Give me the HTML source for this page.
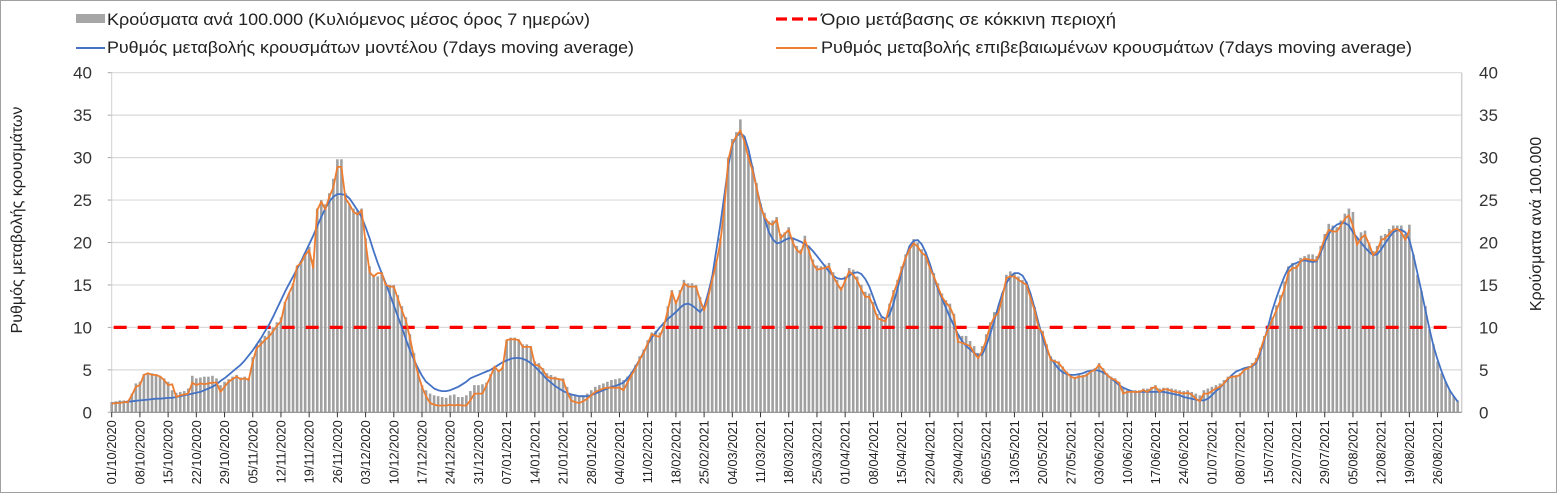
<!DOCTYPE html>
<html><head><meta charset="utf-8">
<style>
body{margin:0;background:#fff;}
#wrap{position:relative;width:1557px;height:493px;overflow:hidden;background:#fff;}
svg{position:absolute;left:0;top:0;font-family:"Liberation Sans",Arial,sans-serif;}
</style></head>
<body>
<div id="wrap">
<svg id="chart" width="1557" height="493"></svg>
</div>
<script>
const startDate = [2020, 9, 1]; // 01/10/2020 (month 0-based)
const yTicks = [0,5,10,15,20,25,30,35,40];
const threshold = 10;
const orange = [
1.0,1.1,1.1,1.2,1.2,2.0,3.0,3.2,4.4,4.6,
4.4,4.4,4.2,3.8,3.2,3.3,1.8,2.0,2.1,2.2,
3.5,3.2,3.4,3.3,3.4,3.5,3.5,2.4,3.0,3.6,
3.9,4.2,3.9,4.0,3.8,6.0,7.6,8.0,8.5,8.9,
9.5,10.2,10.7,12.9,14.0,15.0,17.2,17.6,18.5,19.1,
17.0,23.8,24.8,23.9,25.4,26.5,28.9,28.9,25.2,24.5,
23.6,23.3,23.8,20.0,16.5,16.0,16.4,16.4,15.0,14.8,
14.8,13.4,12.0,10.8,8.8,6.5,4.5,3.0,1.9,1.1,
0.9,0.8,0.8,0.8,0.9,0.8,0.9,0.8,0.8,1.4,
2.2,2.2,2.2,3.2,4.2,5.4,4.8,5.2,8.5,8.6,
8.6,8.5,7.7,7.7,7.7,5.6,5.5,5.0,4.2,4.0,
4.0,3.9,3.8,2.4,1.4,1.2,1.1,1.3,1.6,2.0,
2.4,2.6,2.8,2.9,2.9,2.9,2.9,2.6,3.5,4.4,
5.2,6.2,7.0,8.1,9.2,9.0,8.9,10.1,12.0,14.2,
12.8,14.0,15.2,14.8,14.8,14.8,13.2,12.0,13.5,15.6,
17.5,19.9,24.0,29.7,31.7,32.5,33.2,31.9,30.0,28.5,
26.5,24.2,23.0,22.3,22.1,22.7,20.5,21.0,21.5,20.0,
19.1,18.7,20.3,19.0,17.5,16.8,16.9,17.0,17.2,16.0,
15.2,14.4,15.5,16.6,16.2,15.5,14.5,13.6,13.6,12.5,
11.1,10.9,10.7,12.5,14.0,15.3,16.8,18.2,19.2,19.9,
19.5,18.8,18.4,17.0,16.0,14.8,13.6,12.9,12.4,11.3,
8.3,8.2,8.0,7.8,7.0,6.4,7.2,8.5,10.2,11.2,
11.7,13.5,15.8,16.0,16.0,15.6,15.3,15.0,13.5,12.0,
10.0,9.3,7.7,6.2,6.0,5.8,5.2,4.6,4.2,4.0,
4.2,4.2,4.4,4.8,5.0,5.6,5.0,4.4,4.0,3.8,
3.4,2.2,2.4,2.4,2.4,2.4,2.6,2.4,2.8,3.0,
2.4,2.7,2.7,2.5,2.4,2.3,2.2,2.3,2.1,1.6,
1.3,2.2,2.2,2.5,2.8,3.0,3.4,4.0,4.2,4.2,
4.4,5.0,5.2,5.5,6.0,7.3,8.7,9.8,10.9,12.0,
13.2,14.5,16.5,17.0,17.0,17.8,18.1,18.0,17.9,17.9,
19.1,20.5,21.5,21.3,21.3,22.0,22.8,23.2,22.0,19.7,
20.5,20.9,19.8,18.5,19.0,20.3,20.5,21.0,21.5,21.6,
21.2,20.3,21.5];
const blue = [
1.06,1.1,1.15,1.2,1.25,1.3,1.35,1.4,1.45,1.5,
1.55,1.6,1.6,1.65,1.7,1.7,1.8,1.9,2.0,2.1,
2.2,2.3,2.4,2.6,2.8,3.0,3.3,3.7,4.0,4.4,
4.8,5.2,5.6,6.1,6.7,7.3,8.0,8.7,9.5,10.3,
11.2,12.2,13.2,14.2,15.1,16.0,16.9,17.8,18.8,19.8,
20.8,21.9,23.0,24.0,24.8,25.4,25.7,25.7,25.6,25.2,
24.5,23.8,23.0,21.8,20.5,19.0,17.6,16.4,15.2,13.9,
12.6,11.3,10.0,8.6,7.3,6.2,5.2,4.3,3.6,3.2,
2.8,2.6,2.5,2.5,2.6,2.8,3.0,3.3,3.6,4.0,
4.2,4.4,4.6,4.8,5.0,5.3,5.6,5.9,6.1,6.3,
6.4,6.4,6.3,6.1,5.8,5.4,4.9,4.4,3.9,3.5,
3.1,2.8,2.5,2.3,2.1,2.0,1.9,1.9,1.9,2.0,
2.2,2.4,2.6,2.8,3.0,3.1,3.3,3.5,4.0,4.6,
5.4,6.2,7.1,8.0,8.8,9.4,10.0,10.5,11.0,11.4,
11.8,12.3,12.7,12.8,12.6,12.2,11.8,12.4,14.0,16.0,
19.0,22.0,25.5,29.0,31.5,32.5,32.9,32.5,31.0,28.8,
26.5,24.5,22.8,21.3,20.4,19.9,20.0,20.3,20.5,20.5,
20.3,20.1,19.8,19.5,19.0,18.4,17.8,17.2,16.6,16.1,
15.8,15.7,15.8,16.1,16.4,16.5,16.3,15.7,14.8,13.5,
12.2,11.3,11.0,11.5,12.8,14.6,16.5,18.2,19.6,20.2,
20.3,19.8,18.8,17.5,16.0,14.5,13.4,12.3,11.2,10.2,
9.2,8.4,7.8,7.4,7.0,6.7,6.8,7.8,9.2,10.8,
12.5,14.0,15.2,16.0,16.4,16.4,16.1,15.3,14.0,12.3,
10.5,8.8,7.4,6.4,5.7,5.1,4.7,4.5,4.4,4.4,
4.5,4.6,4.8,4.9,5.0,4.9,4.7,4.4,4.0,3.6,
3.2,2.9,2.7,2.5,2.4,2.4,2.4,2.4,2.4,2.4,
2.4,2.4,2.3,2.2,2.1,2.0,1.8,1.7,1.6,1.5,
1.4,1.4,1.6,2.0,2.5,2.9,3.4,3.9,4.4,4.8,
5.0,5.2,5.3,5.4,5.8,7.0,8.5,10.2,12.0,13.5,
14.8,16.0,17.0,17.4,17.6,17.8,17.9,17.8,17.7,17.8,
18.8,20.0,21.0,21.7,22.1,22.3,22.3,22.0,21.2,20.6,
20.0,19.4,18.9,18.5,18.6,19.2,19.9,20.6,21.2,21.5,
21.5,21.2,20.3,18.5,16.4,14.2,12.0,9.8,7.8,6.2,
4.8,3.6,2.6,1.9,1.25];
const bars = [
1.2,1.3,1.4,1.4,1.4,2.2,3.4,3.6,4.5,4.6,
4.6,4.5,4.3,4.0,3.6,2.6,2.3,2.4,2.5,2.8,
4.3,4.0,4.1,4.2,4.2,4.3,4.0,3.2,3.6,3.9,
4.2,4.4,4.1,4.2,4.0,6.5,8.0,8.5,9.0,9.6,
10.0,10.6,11.2,13.0,14.0,15.2,17.3,17.8,18.8,19.5,
18.0,24.0,25.0,24.5,25.8,27.5,29.8,29.8,25.8,24.5,
24.0,23.8,24.0,20.5,17.2,16.2,16.0,16.5,15.2,15.0,
15.0,13.8,12.5,11.2,9.2,7.0,5.0,3.2,2.6,2.2,
2.0,1.9,1.8,1.7,2.0,2.1,1.8,1.8,2.0,2.5,
3.2,3.2,3.3,3.5,4.5,5.2,5.0,5.4,8.5,8.8,
8.8,8.6,8.0,8.0,7.8,6.0,5.8,5.2,4.6,4.4,
4.2,4.0,4.0,3.0,2.2,2.0,1.8,2.0,2.2,2.6,
3.0,3.2,3.4,3.6,3.8,3.9,4.0,3.8,4.2,4.8,
5.6,6.6,7.4,8.5,9.4,9.6,9.4,10.6,12.5,14.4,
13.2,14.4,15.6,15.2,15.2,15.0,13.6,12.5,14.0,16.0,
18.0,20.5,24.5,30.0,32.2,33.0,34.5,32.5,30.5,29.0,
27.0,24.6,23.5,22.5,22.6,23.0,21.0,21.2,21.8,20.6,
19.6,19.2,20.8,19.6,18.0,17.3,17.2,17.4,17.6,16.5,
15.6,14.8,16.0,17.0,16.8,16.0,15.0,14.2,14.0,13.0,
11.6,11.2,11.0,12.8,14.4,15.6,17.2,18.6,19.6,20.4,
20.0,19.2,18.8,17.4,16.4,15.2,14.0,13.2,12.8,11.6,
9.2,9.0,9.0,8.4,7.8,7.0,7.8,9.2,10.6,11.8,
12.2,14.0,16.2,16.6,16.4,16.0,15.6,15.4,13.8,12.4,
10.4,9.6,8.0,6.6,6.2,6.0,5.4,4.8,4.4,4.2,
4.4,4.4,4.6,5.0,5.2,5.8,5.2,4.6,4.2,4.0,
3.6,2.8,2.6,2.6,2.6,2.6,2.8,2.8,3.0,3.2,
2.8,2.9,2.9,2.8,2.7,2.6,2.5,2.6,2.4,2.2,
2.0,2.6,2.8,3.0,3.2,3.4,3.8,4.2,4.4,4.4,
4.6,5.2,5.4,5.8,6.4,7.6,9.0,10.2,11.2,12.6,
13.8,15.4,17.2,17.6,17.4,18.2,18.4,18.6,18.6,18.4,
19.6,21.0,22.2,22.0,21.8,22.6,23.4,24.0,23.6,20.4,
21.2,21.4,20.0,19.0,19.6,20.8,21.0,21.6,22.0,22.0,
22.0,21.0,22.1,18.6,16.2,14.3,12.5,9.8,8.0,6.0,
4.6,3.6,2.6,1.9,1.4];

const NS = 'http://www.w3.org/2000/svg';
const svg = document.getElementById('chart');
const X0 = 111.7, DX = 4.03, Y0 = 412.3, YS = 8.49, XR = 1461.7;
function xs(i){ return X0 + DX * i; }
function ys(v){ return Y0 - YS * v; }
function mk(tag, attrs, parent){
  const e = document.createElementNS(NS, tag);
  for (const k in attrs) e.setAttribute(k, attrs[k]);
  (parent || svg).appendChild(e);
  return e;
}

let el = mk('rect', {x:0.5,y:0.5,width:1556,height:492,fill:'none',stroke:'#a0a0a0'});



const gGrid = mk('g', {});


yTicks.forEach(function(v){
  if (v > 0) {
    const l = mk('line', {x1:X0, x2:XR, y1:ys(v), y2:ys(v), stroke:'#d9d9d9', 'stroke-width':1.2}, gGrid);
    
    
  }
  const t = mk('text', {x:92, y:ys(v)+6, 'text-anchor':'end', 'font-size':17, fill:'#333'});
  t.textContent = v;
  
  
  const t2 = mk('text', {x:1479, y:ys(v)+6, 'text-anchor':'start', 'font-size':17, fill:'#333'});
  t2.textContent = v;
  
  
  const tk = mk('line', {x1:X0-4, x2:X0, y1:ys(v), y2:ys(v), stroke:'#aaa'});
  
  
});
el = mk('line', {x1:X0, x2:X0, y1:ys(40), y2:Y0, stroke:'#d0d0d0'});


el = mk('line', {x1:XR, x2:XR, y1:ys(40), y2:Y0, stroke:'#d0d0d0', 'stroke-width':1.5});



const gBars = mk('g', {fill:'#a0a0a0'});


bars.forEach(function(v, i){
  const r = mk('rect', {x:xs(i)-1.3, y:ys(v), width:2.6, height:Y0 - ys(v)}, gBars);
  
  
});

el = mk('line', {x1:X0, x2:XR, y1:Y0, y2:Y0, stroke:'#888', 'stroke-width':1.2});


const gX = mk('g', {});


function pad(n){ return (n < 10 ? '0' : '') + n; }
for (let i = 0; i < bars.length; i += 7) {
  const d = new Date(startDate[0], startDate[1], startDate[2] + i);
  const label = pad(d.getDate()) + '/' + pad(d.getMonth()+1) + '/' + d.getFullYear();
  const tk = mk('line', {x1:xs(i), x2:xs(i), y1:Y0, y2:Y0+5, stroke:'#333'}, gX);
  
  
  const t = mk('text', {x:0, y:0, 'text-anchor':'end', 'font-size':12.8, fill:'#222',
    transform:'translate(' + (xs(i)+4.5) + ',' + (Y0+8) + ') rotate(-90)'}, gX);
  t.textContent = label;
  
  
}

el = mk('line', {x1:X0+2, x2:1452, y1:ys(threshold), y2:ys(threshold), stroke:'#ff0000', 'stroke-width':3.2, 'stroke-dasharray':'13 11'});



function linePath(arr){
  return arr.map(function(v,i){ return (i ? 'L' : 'M') + xs(i).toFixed(1) + ' ' + ys(v).toFixed(1); }).join(' ');
}
el = mk('path', {d:linePath(blue), fill:'none', stroke:'#4472c4', 'stroke-width':1.8, 'stroke-linejoin':'round'});


el = mk('path', {d:linePath(orange), fill:'none', stroke:'#ed7d31', 'stroke-width':1.8, 'stroke-linejoin':'round'});



el = mk('text', {x:0, y:0, 'text-anchor':'middle', 'font-size':16, fill:'#222', transform:'translate(22,220) rotate(-90)'});
el.textContent = 'Ρυθμός μεταβολής κρουσμάτων';


el = mk('text', {x:0, y:0, 'text-anchor':'middle', 'font-size':16, fill:'#222', transform:'translate(1541,224) rotate(-90)'});
el.textContent = 'Κρούσματα ανά 100.000';



const gL = mk('g', {'font-size':16.5, fill:'#222'});


let e1 = mk('rect', {x:76, y:14, width:29, height:9, fill:'#a6a6a6'}, gL);


e1 = mk('text', {x:107, y:25, textLength:483, lengthAdjust:'spacingAndGlyphs'}, gL);
e1.textContent = 'Κρούσματα ανά 100.000 (Κυλιόμενος μέσος όρος 7 ημερών)';


e1 = mk('line', {x1:76, x2:105, y1:48, y2:48, stroke:'#4472c4', 'stroke-width':2}, gL);


e1 = mk('text', {x:107, y:53, textLength:527, lengthAdjust:'spacingAndGlyphs'}, gL);
e1.textContent = 'Ρυθμός μεταβολής κρουσμάτων μοντέλου (7days moving average)';


e1 = mk('line', {x1:776, x2:817, y1:19, y2:19, stroke:'#ff0000', 'stroke-width':3.2, 'stroke-dasharray':'11 5'}, gL);


e1 = mk('text', {x:821, y:25, textLength:295, lengthAdjust:'spacingAndGlyphs'}, gL);
e1.textContent = 'Όριο μετάβασης σε κόκκινη περιοχή';


e1 = mk('line', {x1:776, x2:817, y1:48, y2:48, stroke:'#ed7d31', 'stroke-width':2}, gL);


e1 = mk('text', {x:821, y:53, textLength:591, lengthAdjust:'spacingAndGlyphs'}, gL);
e1.textContent = 'Ρυθμός μεταβολής επιβεβαιωμένων κρουσμάτων (7days moving average)';


</script>
</body></html>
